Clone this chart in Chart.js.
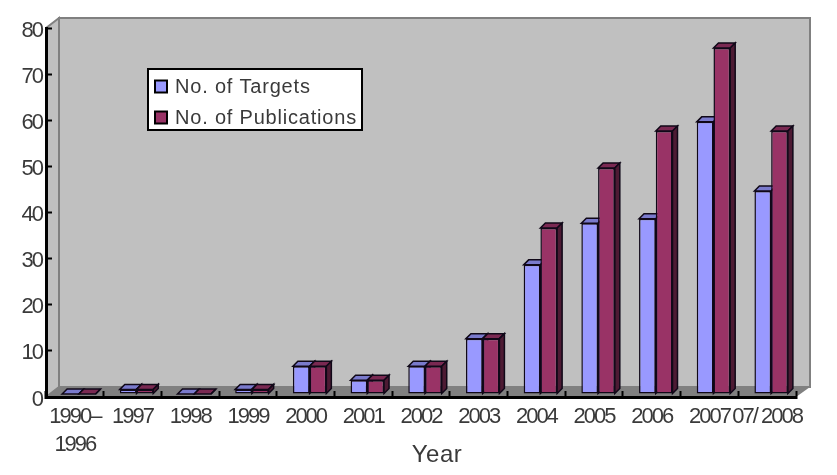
<!DOCTYPE html>
<html>
<head>
<meta charset="utf-8">
<style>html,body{margin:0;padding:0;background:#fff}canvas{display:block}</style>
<script src="https://cdn.jsdelivr.net/npm/chart.js@4"></script>
</head>
<body>
<canvas id="c" width="837" height="475" style="width:837px;height:475px"></canvas>
<script>
const categories = [["1990–","1996"],"1997","1998","1999","2000","2001","2002","2003","2004","2005","2006","2007","07/ 2008"];
const targets = [0,1,0,1,6,3,6,12,28,37,38,59,44];
const publications = [0,1,0,1,6,3,6,12,36,49,57,75,57];
const seriesNames = ["No. of Targets","No. of Publications"];
const frontColors = ["#9999ff","#993366"];
const topColors = ["#7a7acc","#7a2952"];
const sideColors = ["#4d4d80","#4d1a33"];
const textColor = "#3a3a3a";
const wallColor = "#c0c0c0";
const floorColor = "#808080";
const tickFont = {family:"'Liberation Sans',sans-serif",size:22,lineHeight:1.27};

const DEPTH = 5, SHIFT_X = 4, SHIFT_Y = -3, WALL = 13, WALL_Y = 10;

function drawFaces(ctx,meta,i){
  ctx.lineWidth = 1.5;
  ctx.strokeStyle = "#100818";
  meta.data.forEach(b=>{
    const l = b.x-b.width/2, r = b.x+b.width/2, t = b.y, bt = b.base;
    ctx.beginPath();ctx.moveTo(l,t);ctx.lineTo(l+DEPTH,t-DEPTH);ctx.lineTo(r+DEPTH,t-DEPTH);ctx.lineTo(r,t);ctx.closePath();
    ctx.fillStyle = topColors[i];ctx.fill();ctx.stroke();
    ctx.beginPath();ctx.moveTo(r,t);ctx.lineTo(r+DEPTH,t-DEPTH);ctx.lineTo(r+DEPTH,bt-DEPTH);ctx.lineTo(r,bt);ctx.closePath();
    ctx.fillStyle = sideColors[i];ctx.fill();ctx.stroke();
  });
}

const scene = {
  id:"scene",
  beforeDraw(chart){
    const s = chart.scales.x, sy = chart.scales.y;
    if(!s.__shifted){
      s.__shifted = true;
      const orig = s.drawTitle;
      s.drawTitle = function(){
        const c = chart.ctx;
        c.save();c.letterSpacing="0.5px";c.translate(16,0);orig.call(this);c.restore();
      };
      const origLabels = sy.drawLabels;
      sy.drawLabels = function(area){
        const c = chart.ctx;
        c.save();c.translate(0,2.5);origLabels.call(this,area);c.restore();
      };
    }
    const {ctx,chartArea:a} = chart;
    ctx.letterSpacing = "-2px";
    ctx.save();
    const poly = (pts,fill,stroke)=>{
      ctx.beginPath();pts.forEach((p,i)=>i?ctx.lineTo(p[0],p[1]):ctx.moveTo(p[0],p[1]));ctx.closePath();
      ctx.fillStyle=fill;ctx.fill();
      if(stroke){ctx.strokeStyle=stroke;ctx.lineWidth=2;ctx.stroke();}
    };
    poly([[a.left+WALL,a.top-WALL_Y],[a.right+WALL+1,a.top-WALL_Y],[a.right+WALL+1,a.bottom-WALL_Y],[a.left+WALL,a.bottom-WALL_Y]],wallColor,floorColor);
    poly([[a.left,a.top],[a.left+WALL,a.top-WALL_Y],[a.left+WALL,a.bottom-WALL_Y],[a.left,a.bottom]],wallColor,floorColor);
    poly([[a.left,a.bottom],[a.left+WALL,a.bottom-WALL_Y],[a.right+WALL+1,a.bottom-WALL_Y],[a.right,a.bottom]],floorColor);
    ctx.restore();
  },
  beforeDatasetDraw(chart,args){
    if(args.index===1) return false;   // painted after the targets, so it sits in front
    const ctx = chart.ctx;
    ctx.save();
    ctx.translate(SHIFT_X,SHIFT_Y);
    drawFaces(ctx,args.meta,args.index);
  },
  afterDatasetDraw(chart,args){
    const ctx = chart.ctx;
    const m = chart.getDatasetMeta(1);
    drawFaces(ctx,m,1);
    m.controller.draw();
    ctx.restore();
  },
  afterDraw(chart){
    const ctx = chart.ctx;
    ctx.save();
    ctx.fillStyle="#fff";ctx.strokeStyle="#000";ctx.lineWidth=2;
    ctx.fillRect(148,69,214,61);ctx.strokeRect(148,69,214,61);
    ctx.font="20px 'Liberation Sans',sans-serif";
    ctx.textBaseline="middle";ctx.textAlign="left";
    ctx.letterSpacing="0.8px";
    const swY=[80.5,111.5], txY=[87,118];
    seriesNames.forEach((n,i)=>{
      ctx.fillStyle=frontColors[i];ctx.strokeStyle="#000";ctx.lineWidth=2;
      ctx.fillRect(155,swY[i],12,12);ctx.strokeRect(155,swY[i],12,12);
      ctx.fillStyle=textColor;ctx.fillText(n,175,txY[i]);
    });
    ctx.restore();
  }
};

new Chart(document.getElementById("c"),{
  type:"bar",
  plugins:[scene],
  data:{
    labels:categories,
    datasets:[
      {label:seriesNames[0],data:targets,backgroundColor:frontColors[0]},
      {label:seriesNames[1],data:publications,backgroundColor:frontColors[1]}
    ].map(d=>Object.assign(d,{borderColor:"#100818",borderWidth:1.5,borderSkipped:false,clip:false,categoryPercentage:0.58,barPercentage:1}))
  },
  options:{
    responsive:false,animation:false,
    layout:{padding:{left:0,right:41,top:28,bottom:0}},
    plugins:{legend:{display:false},tooltip:{enabled:false}},
    scales:{
      x:{
        afterFit(s){s.height=78;},
        grid:{drawOnChartArea:false,tickLength:-6,tickColor:"#000",tickWidth:2},
        border:{color:"#000",width:3},
        ticks:{color:textColor,font:tickFont,maxRotation:0,minRotation:0,autoSkip:false,padding:12},
        title:{display:true,text:"Year",color:textColor,font:{family:"'Liberation Sans',sans-serif",size:24},padding:{top:0,bottom:5}}
      },
      y:{
        min:0,max:80,
        afterFit(s){s.width=46;},
        grid:{drawOnChartArea:false,tickLength:-6,tickColor:"#000",tickWidth:2},
        border:{color:"#000",width:3},
        ticks:{color:textColor,font:tickFont,stepSize:10,padding:10}
      }
    }
  }
});
</script>
</body>
</html>
